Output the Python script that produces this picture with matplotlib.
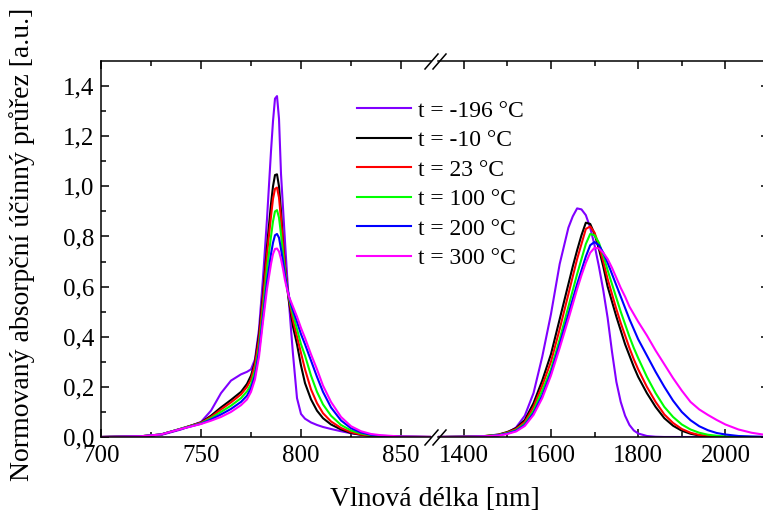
import matplotlib
matplotlib.use("Agg")
import matplotlib.pyplot as plt
from matplotlib.lines import Line2D

plt.rcParams['font.family'] = ['Liberation Serif', 'DejaVu Serif']

# ================================================================
# DATA
# ================================================================
labels = ["t = -196 °C", "t = -10 °C", "t = 23 °C", "t = 100 °C", "t = 200 °C", "t = 300 °C"]
colors = ["#8000FF", "#000000", "#FF0000", "#00FF00", "#0000FF", "#FF00FF"]

# first band, ~790 nm
wl_a = [700, 720, 730, 740, 750, 755, 760, 765, 770, 773, 775, 777, 779, 781, 783, 785, 786, 787,
        788, 789, 790, 791, 792, 793, 794, 795, 796, 798, 800, 802, 805, 808, 811, 815, 820, 825,
        830, 835, 840, 850, 865]
a_m196 = [0, 0.002, 0.008, 0.03, 0.06, 0.105, 0.175, 0.225, 0.25, 0.26, 0.27, 0.31, 0.43, 0.635, 0.87,
          1.14, 1.26, 1.35, 1.36, 1.27, 1.05, 0.915, 0.78, 0.65, 0.535, 0.43, 0.33, 0.155, 0.092, 0.073,
          0.058, 0.048, 0.04, 0.032, 0.023, 0.015, 0.009, 0.005, 0.003, 0.001, 0]
a_m10 = [0, 0.003, 0.01, 0.033, 0.058, 0.085, 0.118, 0.148, 0.18, 0.212, 0.245, 0.3, 0.41, 0.57, 0.76,
         0.93, 1.0, 1.045, 1.048, 1.0, 0.9, 0.78, 0.68, 0.6, 0.54, 0.49, 0.44, 0.37, 0.285, 0.215,
         0.15, 0.105, 0.075, 0.05, 0.03, 0.016, 0.009, 0.004, 0.002, 0.0005, 0]
a_23 = [0, 0.003, 0.01, 0.033, 0.057, 0.08, 0.11, 0.138, 0.17, 0.2, 0.23, 0.29, 0.39, 0.55, 0.73,
        0.88, 0.95, 0.99, 0.995, 0.955, 0.87, 0.77, 0.68, 0.61, 0.55, 0.505, 0.465, 0.4, 0.335, 0.27,
        0.19, 0.135, 0.095, 0.062, 0.036, 0.019, 0.01, 0.005, 0.0025, 0.0007, 0]
a_100 = [0, 0.003, 0.01, 0.033, 0.055, 0.075, 0.1, 0.125, 0.155, 0.182, 0.21, 0.265, 0.36, 0.51, 0.67,
         0.8, 0.86, 0.9, 0.905, 0.875, 0.81, 0.73, 0.66, 0.6, 0.555, 0.52, 0.49, 0.43, 0.37, 0.325,
         0.245, 0.18, 0.13, 0.085, 0.048, 0.026, 0.014, 0.007, 0.0035, 0.001, 0]
a_200 = [0, 0.003, 0.01, 0.032, 0.053, 0.07, 0.09, 0.112, 0.14, 0.165, 0.195, 0.245, 0.34, 0.48, 0.62,
         0.73, 0.775, 0.805, 0.81, 0.795, 0.75, 0.7, 0.645, 0.6, 0.56, 0.53, 0.505, 0.46, 0.41, 0.37,
         0.305, 0.24, 0.18, 0.118, 0.066, 0.035, 0.018, 0.009, 0.005, 0.0015, 0]
a_300 = [0, 0.003, 0.01, 0.032, 0.052, 0.065, 0.08, 0.1, 0.127, 0.15, 0.18, 0.23, 0.32, 0.46, 0.59,
         0.69, 0.73, 0.75, 0.752, 0.74, 0.71, 0.67, 0.625, 0.59, 0.56, 0.54, 0.52, 0.48, 0.435, 0.395,
         0.33, 0.27, 0.205, 0.14, 0.08, 0.043, 0.023, 0.012, 0.007, 0.002, 0.0005]

# second band, ~1700 nm
wl_b = [1340, 1400, 1450, 1480, 1500, 1520, 1540, 1560, 1580, 1600, 1620, 1640, 1650, 1660, 1670,
        1680, 1690, 1700, 1710, 1720, 1730, 1740, 1750, 1760, 1770, 1780, 1790, 1800, 1820, 1840,
        1860, 1880, 1900, 1920, 1940, 1960, 1980, 2000, 2030, 2060, 2100]
b_m196 = [0, 0.001, 0.003, 0.008, 0.016, 0.038, 0.085, 0.175, 0.32, 0.49, 0.69, 0.835, 0.88, 0.912,
          0.908, 0.885, 0.835, 0.765, 0.68, 0.585, 0.475, 0.34, 0.22, 0.14, 0.085, 0.048, 0.026,
          0.014, 0.004, 0.001, 0, 0, 0, 0, 0, 0, 0, 0, 0, 0, 0]
b_m10 = [0, 0.001, 0.004, 0.01, 0.02, 0.035, 0.068, 0.135, 0.225, 0.33, 0.47, 0.61, 0.68, 0.745,
         0.805, 0.855, 0.85, 0.81, 0.75, 0.68, 0.6, 0.54, 0.48, 0.425, 0.37, 0.325, 0.28, 0.24,
         0.175, 0.12, 0.075, 0.045, 0.025, 0.013, 0.006, 0.003, 0.001, 0, 0, 0, 0]
b_23 = [0, 0.001, 0.004, 0.009, 0.018, 0.032, 0.06, 0.12, 0.205, 0.3, 0.43, 0.57, 0.64, 0.71, 0.77,
        0.83, 0.84, 0.815, 0.765, 0.7, 0.63, 0.57, 0.51, 0.455, 0.405, 0.355, 0.31, 0.27, 0.2, 0.14,
        0.09, 0.056, 0.032, 0.017, 0.008, 0.004, 0.002, 0.001, 0, 0, 0]
b_100 = [0, 0.001, 0.004, 0.008, 0.016, 0.028, 0.053, 0.105, 0.185, 0.27, 0.39, 0.52, 0.585, 0.65,
         0.71, 0.77, 0.81, 0.805, 0.775, 0.725, 0.665, 0.61, 0.555, 0.5, 0.45, 0.4, 0.355, 0.315,
         0.24, 0.175, 0.12, 0.08, 0.05, 0.03, 0.017, 0.009, 0.005, 0.002, 0.001, 0, 0]
b_200 = [0, 0.001, 0.003, 0.007, 0.014, 0.025, 0.048, 0.095, 0.165, 0.255, 0.37, 0.49, 0.55, 0.61,
         0.665, 0.72, 0.765, 0.778, 0.765, 0.735, 0.695, 0.65, 0.605, 0.56, 0.515, 0.47, 0.43, 0.39,
         0.325, 0.26, 0.2, 0.145, 0.1, 0.067, 0.043, 0.027, 0.016, 0.01, 0.004, 0.002, 0]
b_300 = [0, 0.001, 0.003, 0.006, 0.012, 0.022, 0.044, 0.088, 0.155, 0.245, 0.355, 0.47, 0.53, 0.59,
         0.645, 0.695, 0.735, 0.755, 0.752, 0.735, 0.71, 0.675, 0.635, 0.595, 0.56, 0.52, 0.49,
         0.46, 0.405, 0.345, 0.29, 0.235, 0.185, 0.14, 0.11, 0.088, 0.068, 0.05, 0.03, 0.017, 0.006]

series_a = [a_m196, a_m10, a_23, a_100, a_200, a_300]
series_b = [b_m196, b_m10, b_23, b_100, b_200, b_300]

y_ticks = [0.0, 0.2, 0.4, 0.6, 0.8, 1.0, 1.2, 1.4]
y_ticklabels = ["0,0", "0,2", "0,4", "0,6", "0,8", "1,0", "1,2", "1,4"]

# ================================================================
# FIGURE (broken x axis = two axes side by side)
# ================================================================
W, H = 763, 517
fig = plt.figure(figsize=(W / 100, H / 100), dpi=100)

def fx(px):
    return px / W

def fy(py):
    return 1 - py / H

bottom, top = fy(437), fy(61)
ax1 = fig.add_axes([fx(101), bottom, fx(431) - fx(101), top - bottom])
ax2 = fig.add_axes([fx(438), bottom, fx(769) - fx(438), top - bottom])

for ys, c, lab in zip(series_a, colors, labels):
    ax1.plot(wl_a, ys, color=c, lw=1.5, label=lab)
for ys, c in zip(series_b, colors):
    ax2.plot(wl_b, ys, color=c, lw=1.5)

ax1.set_xlim(700, 865)
ax2.set_xlim(1341, 2100)
for ax in (ax1, ax2):
    ax.set_ylim(0, 1.5)
    for s in ax.spines.values():
        s.set_linewidth(1.1)

ax1.spines['right'].set_visible(False)
ax2.spines['left'].set_visible(False)

ax1.set_xticks([700, 750, 800, 850])
ax1.set_xticks([725, 775, 825], minor=True)
ax2.set_xticks([1400, 1600, 1800, 2000])
ax2.set_xticks([1500, 1700, 1900], minor=True)

ax1.set_yticks(y_ticks)
ax1.set_yticklabels(y_ticklabels)
ax1.set_yticks([0.1, 0.3, 0.5, 0.7, 0.9, 1.1, 1.3], minor=True)
ax2.set_yticks(y_ticks)
ax2.set_yticks([0.1, 0.3, 0.5, 0.7, 0.9, 1.1, 1.3], minor=True)

ax1.tick_params(which='both', direction='in', top=True, right=False, labelsize=18, width=1.1)
ax2.tick_params(which='both', direction='in', top=True, left=False, right=True, labelleft=False,
                labelsize=18, width=1.1)
for ax in (ax1, ax2):
    ax.tick_params(which='major', length=6)
    ax.tick_params(which='minor', length=3.5)
    ax.tick_params(axis='x', pad=6)
    ax.tick_params(axis='y', pad=5)

# break marks "//" on top and bottom axis lines
for py in (61, 437):
    for x0 in (425, 433):
        fig.add_artist(Line2D([fx(x0), fx(x0 + 13)], [fy(py + 8), fy(py - 7)],
                              color='black', lw=1.1))

fig.text(fx(435), fy(499), "Vlnová délka [nm]", ha='center', va='center', fontsize=20)
fig.text(fx(22), fy(244), "Normovaný absorpční účinný průřez [a.u.]", ha='center', va='center',
         rotation=90, fontsize=20)

fig.legend(loc='upper left', bbox_to_anchor=(fx(357), fy(100)), frameon=False, fontsize=17,
           handlelength=2.3, handletextpad=0.3, labelspacing=0.34, borderpad=0, borderaxespad=0)

fig.savefig("out.png", dpi=100)
